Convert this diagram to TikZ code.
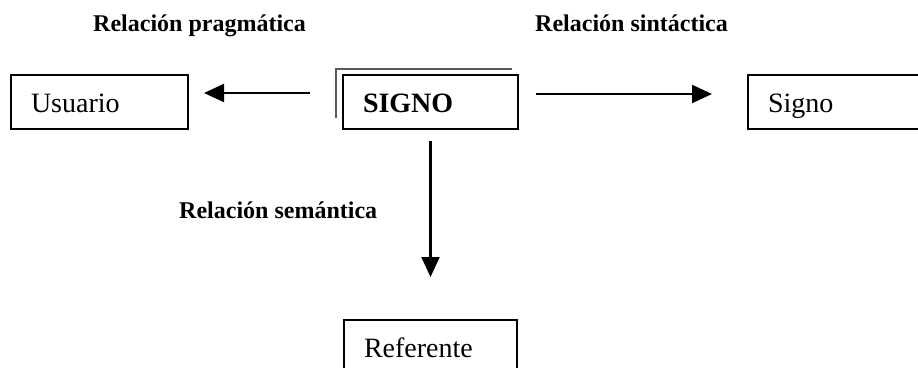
\documentclass[tikz,border=0pt]{standalone}
\usepackage{fontspec}
\setmainfont{Liberation Serif}
\usetikzlibrary{arrows.meta,positioning}

\begin{document}
\begin{tikzpicture}[x=1pt,y=-1pt,
        caja/.style={draw, line width=2pt, minimum height=54pt, inner xsep=20pt, inner ysep=0pt,
            align=left, text height=21pt, text depth=0pt, font=\fontsize{28}{30}\selectfont, anchor=north west},
        rel/.style={anchor=base west, inner sep=0pt, font=\fontsize{24}{26}\selectfont\bfseries},
        flecha/.style={line width=2.2pt, -{Triangle[length=20pt,width=18pt]}},
        sombra/.style={line width=1.5pt, black!65}]
            \useasboundingbox (0,0) rectangle (918,367);
            \clip (0,0) rectangle (918,367);

            \node[caja, text width=137pt] (usuario) at (10,74) {Usuario};
            \node[caja, text width=135pt, font=\fontsize{28}{30}\selectfont\bfseries] (signo) at (342,74) {SIGNO};
            \node[caja, text width=137pt] (otrosigno) at (747,74) {Signo};
            \node[caja, text width=133pt] (referente) at (343,319) {Referente};

            \draw[sombra] ([shift={(-6pt,-44pt)}]signo.north west) -- ([shift={(-6pt,5pt)}]signo.north west)
                -- ([shift={(-7pt,5pt)}]signo.north east);

            \node[rel] (pragmatica) at (93,31) {Relación pragmática};
            \node[rel] (sintactica) at (535,31) {Relación sintáctica};
            \node[rel] (semantica) at (179,218) {Relación semántica};

            \draw[flecha, shorten <=32pt, shorten >=15pt] ([yshift=9pt]signo.west) -- ([yshift=9pt]usuario.east);
            \draw[flecha, shorten <=17pt, shorten >=35pt] ([yshift=8pt]signo.east) -- ([yshift=8pt]otrosigno.west);
            \draw[flecha, shorten <=11pt, shorten >=42pt] (signo.south) -- (referente.north);
        \end{tikzpicture}
\end{document}
